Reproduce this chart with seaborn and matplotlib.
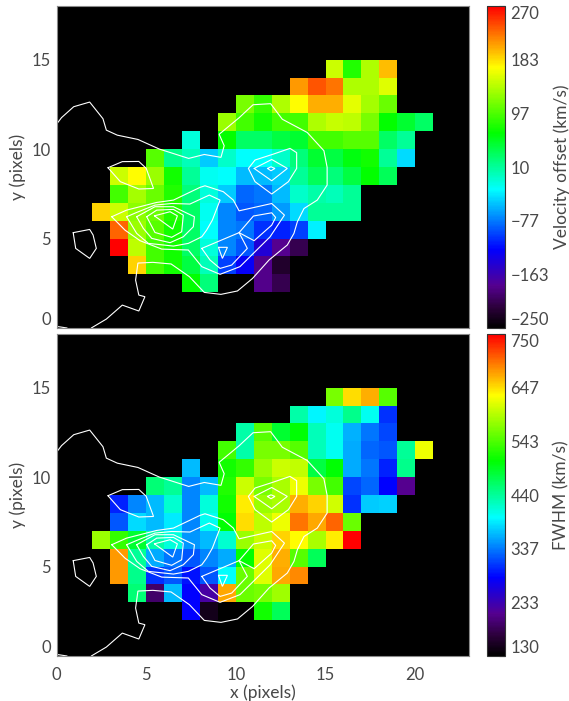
import numpy as np
import pandas as pd
import matplotlib
matplotlib.use("Agg")
import matplotlib.pyplot as plt
from matplotlib.colors import LinearSegmentedColormap
import seaborn as sns

N = np.nan
COLS = 23
ROWS = 18

def e(k):
    return [N] * k

# Velocity offset (km/s), one list per row of pixels, from the first column
vel_y2 = e(7) + [65, 22, N, N, -185, -208]
vel_y3 = e(4) + [187, 93, 72, 41, -2, -98, -128, -185, -224]
vel_y4 = e(3) + [270, 143, 93, 72, 29, -14, -72, -91, -146, -182, -208]
vel_y5 = e(3) + [230, 129, 100, 72, 29, -26, -72, -78, -104, -111, -98, -32]
vel_y6 = e(2) + [187, 150, 122, 108, 79, 29, -21, -72, -91, -85, -65, -39, 10, 10, 10]
vel_y7 = e(3) + [93, 132, 108, 79, 22, -14, -46, -85, -78, -52, -8, 4, -2, 10]
vel_y8 = e(3) + [150, 171, 129, 72, 10, -21, -26, -52, -52, -46, 10, 34, 22, 41, 65, 34]
vel_y9 = e(5) + [100, 16, -2, -46, -8, -26, -26, -8, 22, 47, 41, 59, 72, 10, -39]
vel_y10 = e(7) + [-14, N, 65, 29, 29, 41, 47, 93, 93, 100, 100, 29, 10]
vel_y11 = e(9) + [129, 93, 72, 93, 93, 136, 148, 143, 114, 65, 47, 29]
vel_y12 = e(10) + [114, 86, 136, 171, 202, 202, 160, 132, 108]
vel_y13 = e(13) + [211, 237, 224, 136, 136, 157]
vel_y14 = e(15) + [150, 79, 136, 196]

# FWHM (km/s)
fw_y2 = e(7) + [281, 149, N, N, 514, 469]
fw_y3 = e(4) + [455, 192, 366, 281, 223, 671, 557, 565, 585]
fw_y4 = e(3) + [679, 447, 304, 319, 288, 319, 397, 557, 615, 671, 687]
fw_y5 = e(3) + [679, 440, 358, 335, 319, 343, 358, 506, 615, 669, 548, 469]
fw_y6 = e(2) + [581, 531, 484, 433, 411, 350, 366, 418, 581, 607, 651, 632, 590, 640, 750]
fw_y7 = e(3) + [319, 381, 366, 387, 343, 403, 505, 648, 599, 624, 695, 671, 703, 557]
fw_y8 = e(3) + [296, 343, 366, 418, 343, 411, 514, 640, 581, 590, 669, 651, 609, 304, 374, 377]
fw_y9 = e(5) + [455, 440, 343, 366, 522, 607, 565, 590, 624, 565, 539, 312, 327, 281, 211]
fw_y10 = e(7) + [366, N, 514, 531, 581, 607, 601, 477, 503, 358, 335, 296, 447]
fw_y11 = e(9) + [539, 433, 565, 565, 548, 426, 403, 358, 327, 319, 440, 624]
fw_y12 = e(10) + [433, 548, 484, 503, 426, 403, 361, 335, 312]
fw_y13 = e(13) + [433, 392, 411, 447, 403, 304]
fw_y14 = e(15) + [565, 648, 669, 548]

vel_ticks = [-250, -163, -77, 10, 97, 183, 270]
fw_ticks = [130, 233, 337, 440, 543, 647, 750]
vel_tick_labels = ["\u2212250", "\u2212163", "\u221277", "10", "97", "183", "270"]
fw_tick_labels = ["130", "233", "337", "440", "543", "647", "750"]

# Contours of the overlaid image, as x, y pairs in pixels
c_corner = [(0, .09), (.59, 0)]
c_outer = [(0, 11.39), (.28, 11.76), (.96, 12.37), (1.85, 12.63), (2.59, 11.70), (2.78, 11.06),
           (3.39, 10.78), (4.54, 10.54), (5.74, 10.0), (7.37, 9.48), (8.24, 9.70), (9.17, 9.54),
           (9.35, 10.19), (9.07, 10.83), (10.19, 11.76), (10.96, 12.48), (11.94, 12.54),
           (12.59, 11.67), (13.98, 10.93), (14.91, 9.91), (15.09, 8.98), (15.09, 7.99),
           (14.54, 7.15), (13.8, 6.68), (13.43, 5.94), (13.24, 5.29), (12.87, 4.64), (11.85, 3.80),
           (10.93, 2.77), (10.09, 2.07), (9.17, 1.88), (8.24, 1.99), (7.41, 2.87), (6.39, 3.58),
           (5.37, 3.67), (4.54, 3.63), (4.41, 2.68), (4.59, 1.84), (4.93, 1.75), (4.59, .95),
           (3.67, 1.28), (2.78, .50), (1.94, 0)]
c_left = [(.93, 5.33), (1.85, 5.51), (2.04, 5.20), (2.22, 4.45), (1.85, 3.89), (1.07, 4.45), (.93, 5.33)]
c_upleft = [(2.87, 8.96), (3.67, 9.3), (4.59, 9.31), (5.0, 8.93), (5.41, 7.8), (4.59, 7.77),
            (3.56, 8.18), (2.87, 8.96)]
c_big = [(3.08, 6.22), (3.91, 6.59), (5.59, 7.02), (6.52, 7.15), (8.0, 7.86), (8.28, 7.95), (9.30, 7.62),
         (9.86, 7.15), (10.18, 6.55), (12.0, 6.96), (12.71, 6.31), (11.91, 5.10), (10.23, 3.43),
         (9.12, 3.0), (8.1, 3.43), (7.35, 4.36), (5.87, 4.41), (4.66, 4.88), (3.82, 5.47), (3.08, 6.22)]
c_arm = [(3.91, 6.22), (4.47, 6.46), (5.49, 6.87), (6.42, 6.96), (7.44, 6.93), (8.52, 7.43), (9.12, 7.15),
         (8.69, 6.03), (8.37, 5.47), (8.1, 5.1), (7.35, 4.73), (6.52, 4.58), (5.12, 4.73), (4.47, 5.29),
         (3.91, 6.22)]
c_p1 = [(4.47, 6.22), (5.49, 6.78), (6.52, 6.78), (7.69, 6.22), (7.63, 5.66), (7.07, 5.10), (6.33, 4.77),
        (5.31, 5.01), (4.84, 5.57), (4.47, 6.22)]
c_p2 = [(5.03, 6.22), (5.59, 6.59), (6.52, 6.63), (7.07, 6.31), (6.98, 5.38), (6.42, 5.07), (5.49, 5.34),
        (5.03, 6.22)]
c_p3 = [(5.46, 6.27), (6.33, 6.5), (6.74, 6.27), (6.48, 5.53), (5.46, 6.27)]
c_d1 = [(10.7, 8.92), (11.07, 9.39), (12.09, 9.72), (13.02, 10.04), (13.39, 9.80), (13.39, 8.92),
        (12.93, 8.18), (12.0, 7.49), (11.07, 8.18), (10.7, 8.92)]
c_d2 = [(11.02, 8.92), (12.0, 9.42), (12.87, 8.92), (12.0, 8.23), (11.02, 8.92)]
c_d3 = [(11.76, 8.92), (11.96, 9.01), (12.18, 8.92), (11.96, 8.79), (11.76, 8.92)]
c_e = [(10.18, 5.33), (10.98, 6.26), (12.0, 6.44), (12.22, 6.18), (12.0, 5.75), (11.02, 4.88), (10.18, 5.33)]
c_f = [(8.1, 4.45), (10.18, 5.33), (10.64, 4.45), (9.77, 3.52), (9.12, 3.33), (8.56, 3.80), (8.1, 4.45)]
c_g = [(9.03, 4.51), (9.53, 4.51), (9.25, 3.89), (9.03, 4.51)]
contours = [c_corner, c_outer, c_left, c_upleft, c_big, c_arm, c_p1, c_p2, c_p3, c_d1, c_d2, c_d3, c_e, c_f, c_g]

sns.set_theme(style="white")
plt.rcParams["font.family"] = ["Lato", "DejaVu Sans"]
plt.rcParams["font.weight"] = "normal"
TXT = "#484848"

W, H = 569, 701
fig = plt.figure(figsize=(W / 100, H / 100), dpi=100, facecolor="white")

def px_axes(l, t, r, b):
    return fig.add_axes([l / W, 1 - b / H, (r - l) / W, (b - t) / H])

cmap = LinearSegmentedColormap.from_list("idl_rainbow", [
    (0.0, "#000000"), (0.06, "#2a0038"), (0.13, "#550090"), (0.243, "#0000ff"),
    (0.43, "#00ffff"), (0.606, "#00ff00"), (0.81, "#ffff00"), (1.0, "#ff0000")], N=256)

def frame(rows):
    out = []
    for y in range(ROWS):
        r = rows.get(y, [])
        out.append(list(r) + [N] * (COLS - len(r)))
    return pd.DataFrame(out, index=range(ROWS), columns=range(COLS), dtype=float)

def panel(t, b, rows, ticks, labels, cbar_label, show_x):
    ax = px_axes(56.5, t, 469, b)
    cax = px_axes(486.5, t, 505, b)
    ax.set_facecolor("black")
    sns.heatmap(frame(rows), ax=ax, cbar_ax=cax, cmap=cmap, vmin=ticks[0], vmax=ticks[-1],
                linewidths=0, square=False, xticklabels=False, yticklabels=False)
    ax.set_xlim(0, COLS)
    ax.set_ylim(0, ROWS)
    for path in contours:
        xs, ys = zip(*path)
        ax.plot(xs, ys, color="white", lw=0.8, solid_joinstyle="miter", clip_on=True)
    ax.set_yticks([0, 5, 10, 15], labels=["0", "5", "10", "15"])
    for lab in ax.get_yticklabels():
        lab.set_va("bottom" if lab.get_text() == "0" else "center_baseline")
    if show_x:
        ax.set_xticks([0, 5, 10, 15, 20], labels=["0", "5", "10", "15", "20"])
    else:
        ax.set_xticks([])
    ax.tick_params(axis="both", length=0, labelsize=12, labelcolor=TXT, pad=4)
    ax.tick_params(axis="x", pad=8)
    ax.tick_params(axis="y", labelrotation=0)
    for s in ax.spines.values():
        s.set_visible(True)
        s.set_color("#8a8a8a")
        s.set_linewidth(0.8)
    ax.set_ylabel("y (pixels)", fontsize=12.5, color=TXT, labelpad=0)
    ax.yaxis.set_label_coords(-0.073, 0.5)
    if show_x:
        ax.set_xlabel("x (pixels)", fontsize=12.5, color=TXT)
        ax.xaxis.set_label_coords(0.5, -28 / 322)

    cb = ax.collections[0].colorbar
    cb.set_ticks(ticks, labels=labels)
    step = (ticks[-1] - ticks[0]) / 6
    cb.set_ticks([ticks[0] + step * (i + .5) for i in range(6)], minor=True)
    cax.tick_params(axis="y", which="major", direction="in", length=4, width=0.8, color="#222222",
                    labelsize=12, labelcolor=TXT, pad=4, right=True, left=False)
    cax.tick_params(axis="y", which="minor", direction="in", length=2, width=0.8, color="#222222",
                    right=True, left=False)
    tl = cax.get_yticklabels()
    for lab in tl:
        lab.set_va("center_baseline")
    tl[0].set_va("bottom")
    tl[-1].set_va("top")
    cb.outline.set_edgecolor("#333333")
    cb.outline.set_linewidth(0.8)
    cax.set_ylabel(cbar_label, fontsize=12.5, color=TXT, rotation=90, labelpad=0)
    cax.yaxis.set_label_position("right")
    cax.yaxis.set_label_coords(3.6, 0.5)
    return ax

vel_rows = {2: vel_y2, 3: vel_y3, 4: vel_y4, 5: vel_y5, 6: vel_y6, 7: vel_y7, 8: vel_y8, 9: vel_y9,
            10: vel_y10, 11: vel_y11, 12: vel_y12, 13: vel_y13, 14: vel_y14}
fw_rows = {2: fw_y2, 3: fw_y3, 4: fw_y4, 5: fw_y5, 6: fw_y6, 7: fw_y7, 8: fw_y8, 9: fw_y9,
           10: fw_y10, 11: fw_y11, 12: fw_y12, 13: fw_y13, 14: fw_y14}

panel(6, 328, vel_rows, vel_ticks, vel_tick_labels, "Velocity offset (km/s)", False)
panel(334, 656, fw_rows, fw_ticks, fw_tick_labels, "FWHM (km/s)", True)

fig.savefig("out.png", dpi=100, facecolor="white")
